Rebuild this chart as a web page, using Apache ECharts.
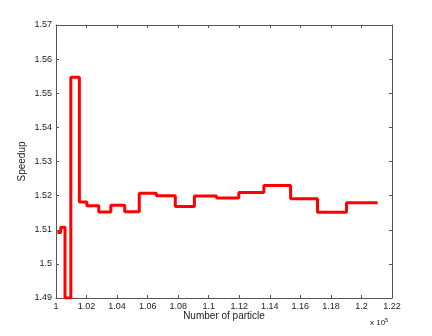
<!DOCTYPE html>
<html>
<head>
<meta charset="utf-8">
<script src="https://cdn.jsdelivr.net/npm/echarts@6/dist/echarts.min.js"></script>
<style>
  html, body { margin: 0; padding: 0; background: #fff; }
  #chart { width: 432px; height: 336px; }
</style>
</head>
<body>
<div id="chart"></div>
<script>
// particle count (x 10^5) where each step starts, last one closes the stairs
var particles = [1.0009, 1.0031, 1.0059, 1.0097, 1.0153, 1.0202, 1.0280, 1.0359, 1.0450, 1.0545,
                 1.0657, 1.0781, 1.0906, 1.1051, 1.1197, 1.1361, 1.1536, 1.1712, 1.1902, 1.2106];
var speedup = [1.5092, 1.5107, 1.4900, 1.5547, 1.5181, 1.5170, 1.5152, 1.5172, 1.5153, 1.5207,
               1.5200, 1.5168, 1.5199, 1.5193, 1.5209, 1.5230, 1.5191, 1.5151, 1.5179, 1.5179];

var xTicks = { min: 1, max: 1.22, interval: 0.02 };
var yTicks = { min: 1.49, max: 1.57, interval: 0.01 };

var axisColor = '#555';
var textColor = '#222';
var font = 'Liberation Sans, Arial, sans-serif';

var stairs = particles.map(function (x, i) {
    return [x, speedup[i]];
});

function boxAxis(range, pos, showLabel, extra) {
    var ax = {
        type: 'value',
        position: pos,
        min: range.min,
        max: range.max,
        interval: range.interval,
        axisLine: { show: true, onZero: false, lineStyle: { color: axisColor, width: 1 } },
        axisTick: { show: true, inside: true, length: 3, lineStyle: { color: axisColor } },
        splitLine: { show: false },
        axisLabel: {
            show: showLabel,
            color: textColor,
            fontSize: 9,
            fontFamily: font,
            margin: 4
        }
    };
    for (var k in extra) ax[k] = extra[k];
    return ax;
}

var chart = echarts.init(document.getElementById('chart'));

chart.setOption({
    backgroundColor: '#fff',
    animation: false,
    grid: {
        left: 56, top: 25, right: 40, bottom: 38,
        outerBoundsMode: 'none'
    },
    xAxis: [
        boxAxis(xTicks, 'bottom', true, {
            name: 'Number of particle',
            nameLocation: 'middle',
            nameGap: 13,
            nameMoveOverlap: false,
            nameTextStyle: { color: textColor, fontSize: 10, fontFamily: font }
        }),
        boxAxis(xTicks, 'top', false, {})
    ],
    yAxis: [
        boxAxis(yTicks, 'left', true, {
            name: 'Speedup',
            nameLocation: 'middle',
            nameGap: 29,
            nameMoveOverlap: false,
            nameTextStyle: { color: textColor, fontSize: 10, fontFamily: font }
        }),
        boxAxis(yTicks, 'right', false, {})
    ],
    graphic: [{
        type: 'text',
        left: 370,
        top: 317,
        style: {
            text: 'x 10{s|5}',
            fill: textColor,
            font: '8px ' + font,
            rich: {
                s: { fontSize: 6, verticalAlign: 'top', padding: [0, 0, 5, 0], fill: textColor }
            }
        }
    }],
    series: [{
        type: 'line',
        step: 'end',
        data: stairs,
        showSymbol: false,
        lineStyle: { color: '#ff0000', width: 3 },
        itemStyle: { color: '#ff0000' }
    }]
});
</script>
</body>
</html>
